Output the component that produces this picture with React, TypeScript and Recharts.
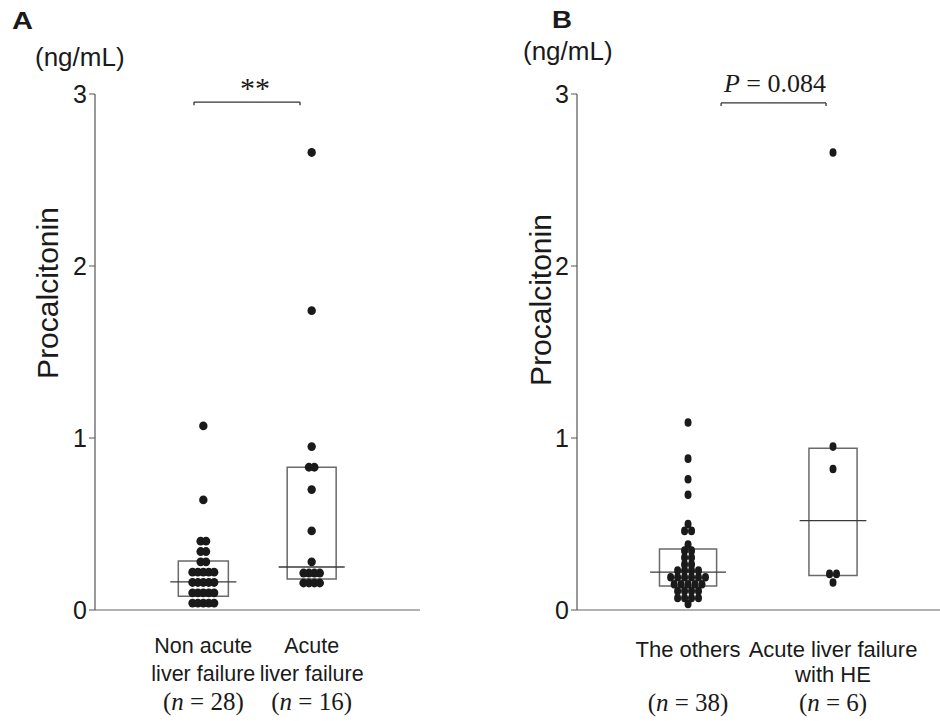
import React from "react";
import {
  ScatterChart,
  Scatter,
  XAxis,
  YAxis,
  ReferenceArea,
  ReferenceLine,
} from "recharts";

// Panel A: procalcitonin, non acute vs acute liver failure
const groupsA = [
  ["Non acute", "liver failure"],
  ["Acute", "liver failure"],
];
const countsA = ["28", "16"];
const nonAcuteLF = [
  1.07, 0.64, 0.4, 0.4, 0.34, 0.34, 0.28, 0.28,
  0.22, 0.22, 0.22, 0.22, 0.22,
  0.16, 0.16, 0.16, 0.16, 0.16,
  0.1, 0.1, 0.1, 0.1, 0.1,
  0.04, 0.04, 0.04, 0.04, 0.04,
];
const acuteLF = [
  2.66, 1.74, 0.95, 0.83, 0.83, 0.7, 0.46, 0.28,
  0.215, 0.215, 0.215, 0.215,
  0.157, 0.157, 0.157, 0.157,
];
const q1A = [0.08, 0.18];
const medianA = [0.163, 0.25];
const q3A = [0.285, 0.83];

// Panel B: the others vs acute liver failure with HE
const groupsB = [
  ["The others", ""],
  ["Acute liver failure", "with HE"],
];
const countsB = ["38", "6"];
const othersB = [
  1.09, 0.88, 0.76, 0.67, 0.5, 0.46, 0.46,
  0.38, 0.345, 0.345, 0.305, 0.305, 0.265, 0.265,
  0.23, 0.23, 0.23, 0.23,
  0.19, 0.19, 0.19, 0.19, 0.19, 0.19,
  0.15, 0.15, 0.15, 0.15, 0.15,
  0.11, 0.11, 0.11, 0.11,
  0.07, 0.07, 0.07, 0.07,
  0.035,
];
const hepB = [2.66, 0.95, 0.82, 0.21, 0.21, 0.16];
const q1B = [0.14, 0.2];
const medianB = [0.22, 0.52];
const q3B = [0.355, 0.94];

const yTicks = [0, 1, 2, 3];
const groupPos = [1, 2];

const SANS = '"Liberation Sans", Arial, Helvetica, sans-serif';
const SERIF = '"Liberation Serif", "Times New Roman", serif';
const INK = "#1a1a1a";

type Pt = { x: number; y: number };

// spread equal values side by side around the group centre
function swarm(values: number[], center: number, step: number): Pt[] {
  const counts = new Map<number, number>();
  values.forEach((v) => counts.set(v, (counts.get(v) || 0) + 1));
  const seen = new Map<number, number>();
  return values.map((v) => {
    const n = counts.get(v)!;
    const i = seen.get(v) || 0;
    seen.set(v, i + 1);
    return { x: center + (i - (n - 1) / 2) * step, y: v };
  });
}

interface PanelProps {
  groups: string[][];
  counts: string[];
  series: number[][];
  q1: number[];
  q3: number[];
  median: number[];
  domain: [number, number];
  marginLeft: number;
  marginRight: number;
  boxHalf: number[];
  medHalf: number[];
  step: number;
  rx: number;
  ry: number;
  labelSize: number;
  nSize: number;
  rows: number[];
  bracket: { x1: number; x2: number; y: number; drop: number };
}

function Panel(p: PanelProps) {
  const tick = (props: any) => {
    const { x, y, payload } = props;
    const i = Math.round(payload.value) - 1;
    const [l1, l2] = p.groups[i];
    return (
      <g>
        <text x={x} y={y + p.rows[0]} textAnchor="middle" fontFamily={SANS} fontSize={p.labelSize} fill={INK}>
          {l1}
        </text>
        {l2 ? (
          <text x={x} y={y + p.rows[1]} textAnchor="middle" fontFamily={SANS} fontSize={p.labelSize} fill={INK}>
            {l2}
          </text>
        ) : null}
        <text x={x} y={y + p.rows[2]} textAnchor="middle" fontFamily={SERIF} fontSize={p.nSize} fill={INK}>
          (<tspan fontStyle="italic">n</tspan> = {p.counts[i]})
        </text>
      </g>
    );
  };

  const dot = (props: any) => (
    <ellipse cx={props.cx} cy={props.cy} rx={p.rx} ry={p.ry} fill={INK} />
  );

  const b = p.bracket;

  return (
    <ScatterChart
      width={470}
      height={721}
      margin={{ top: 94, right: p.marginRight, bottom: 11, left: p.marginLeft }}
    >
      <XAxis
        type="number"
        dataKey="x"
        domain={p.domain}
        allowDataOverflow
        ticks={groupPos}
        interval={0}
        tickLine={false}
        tickSize={0}
        tickMargin={0}
        axisLine={{ stroke: "#999", strokeWidth: 1.5 }}
        tick={tick}
        height={100}
      />
      <YAxis
        type="number"
        dataKey="y"
        domain={[0, 3]}
        ticks={yTicks}
        interval={0}
        width={30}
        tickSize={6}
        tickMargin={2}
        axisLine={{ stroke: "#555", strokeWidth: 1.2 }}
        tickLine={{ stroke: "#555" }}
        tick={{ fontSize: 25, fontFamily: SANS, fill: INK }}
      />
      {groupPos.map((g, i) => (
        <ReferenceArea
          key={"box" + i}
          x1={g - p.boxHalf[i]}
          x2={g + p.boxHalf[i]}
          y1={p.q1[i]}
          y2={p.q3[i]}
          fill="none"
          fillOpacity={0}
          stroke="#6a6a6a"
          strokeWidth={1.5}
          ifOverflow="visible"
        />
      ))}
      {p.series.map((vals, i) => (
        <Scatter
          key={"s" + i}
          data={swarm(vals, groupPos[i], p.step)}
          shape={dot}
          isAnimationActive={false}
        />
      ))}
      {groupPos.map((g, i) => (
        <ReferenceLine
          key={"med" + i}
          segment={[
            { x: g - p.medHalf[i], y: p.median[i] },
            { x: g + p.medHalf[i], y: p.median[i] },
          ]}
          stroke="#3a3a3a"
          strokeWidth={1.3}
          ifOverflow="visible"
        />
      ))}
      <ReferenceLine segment={[{ x: b.x1, y: b.y }, { x: b.x2, y: b.y }]} stroke="#333" strokeWidth={1.3} ifOverflow="visible" />
      <ReferenceLine segment={[{ x: b.x1, y: b.y }, { x: b.x1, y: b.y - b.drop }]} stroke="#333" strokeWidth={1.3} ifOverflow="visible" />
      <ReferenceLine segment={[{ x: b.x2, y: b.y }, { x: b.x2, y: b.y - b.drop }]} stroke="#333" strokeWidth={1.3} ifOverflow="visible" />
    </ScatterChart>
  );
}

export default function App() {
  return (
    <div style={{ position: "absolute", left: 0, top: 0, width: 940, height: 721, background: "#fff" }}>
      <div style={{ position: "absolute", left: 0, top: 0 }}>
        <Panel
          groups={groupsA}
          counts={countsA}
          series={[nonAcuteLF, acuteLF]}
          q1={q1A}
          q3={q3A}
          median={medianA}
          domain={[0, 3]}
          marginLeft={65}
          marginRight={50}
          boxHalf={[0.231, 0.226]}
          medHalf={[0.305, 0.305]}
          step={0.05}
          rx={4.2}
          ry={4.4}
          labelSize={21.5}
          nSize={25}
          rows={[43, 71, 100]}
          bracket={{ x1: 0.914, x2: 1.892, y: 2.953, drop: 0.018 }}
        />
      </div>
      <div style={{ position: "absolute", left: 470, top: 0 }}>
        <Panel
          groups={groupsB}
          counts={countsB}
          series={[othersB, hepB]}
          q1={q1B}
          q3={q3B}
          median={medianB}
          domain={[0.234, 2.738]}
          marginLeft={77}
          marginRight={0}
          boxHalf={[0.197, 0.166]}
          medHalf={[0.262, 0.23]}
          step={0.048}
          rx={3.5}
          ry={4.3}
          labelSize={22}
          nSize={25}
          rows={[47, 72, 101]}
          bracket={{ x1: 1.228, x2: 1.952, y: 2.948, drop: 0.018 }}
        />
      </div>
      <svg width={940} height={721} style={{ position: "absolute", left: 0, top: 0, pointerEvents: "none" }}>
        <text x={12} y={29} fontFamily={SANS} fontWeight="bold" fontSize={23} textLength={21} lengthAdjust="spacingAndGlyphs" fill={INK}>A</text>
        <text x={35} y={66} fontFamily={SANS} fontSize={26} fill={INK}>(ng/mL)</text>
        <text transform="translate(58,293) rotate(-90)" textAnchor="middle" fontFamily={SANS} fontSize={30} fill={INK}>Procalcitonin</text>
        <text x={255} y={98} textAnchor="middle" fontFamily={SERIF} fontSize={30} fill={INK}>**</text>

        <text x={552} y={28} fontFamily={SANS} fontWeight="bold" fontSize={23} textLength={20} lengthAdjust="spacingAndGlyphs" fill={INK}>B</text>
        <text x={523} y={60} fontFamily={SANS} fontSize={26} fill={INK}>(ng/mL)</text>
        <text transform="translate(551,300) rotate(-90)" textAnchor="middle" fontFamily={SANS} fontSize={30} fill={INK}>Procalcitonin</text>
        <text x={775} y={92} textAnchor="middle" fontFamily={SERIF} fontSize={26} fill={INK}>
          <tspan fontStyle="italic">P</tspan> = 0.084
        </text>
      </svg>
    </div>
  );
}
